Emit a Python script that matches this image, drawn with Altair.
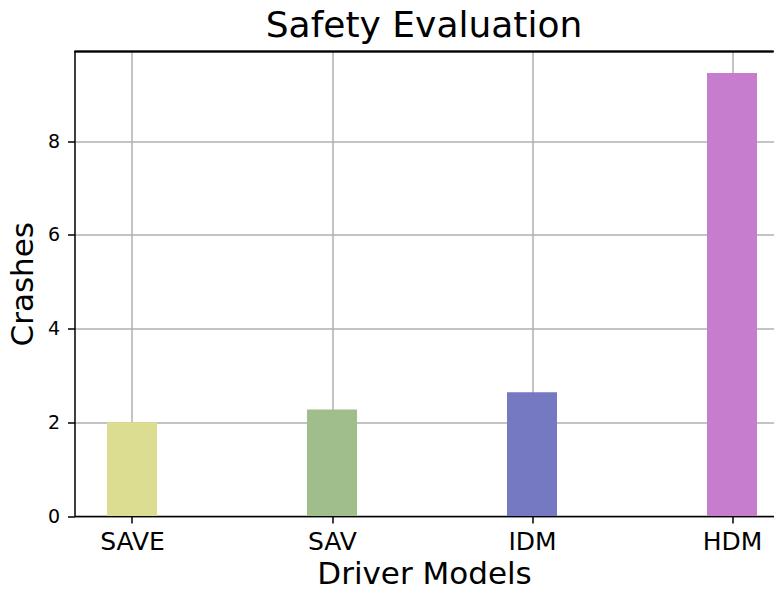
import altair as alt
import pandas as pd

models = ["SAVE", "SAV", "IDM", "HDM"]
crashes = [2.0, 2.27, 2.64, 9.45]
colors = ["#dddd92", "#a0be8c", "#7579c2", "#c77dce"]
positions = [0, 1, 2, 3]
bar_half_width = 0.125
y_ticks = [0, 2, 4, 6, 8]
y_max = 9.91

df = pd.DataFrame({"model": models, "crashes": crashes, "pos": positions, "color": colors})

base = alt.Chart(df).transform_calculate(
    x0=f"datum.pos - {bar_half_width}",
    x1=f"datum.pos + {bar_half_width}",
)

label_expr = "datum.value == 0 ? 'SAVE' : datum.value == 1 ? 'SAV' : datum.value == 2 ? 'IDM' : 'HDM'"
xscale = alt.Scale(domain=[-0.2875, 3.2075], nice=False, zero=False)
yscale = alt.Scale(domain=[0, y_max], nice=False)

bars = base.mark_bar().encode(
    x=alt.X(
        "x0:Q",
        scale=xscale,
        axis=alt.Axis(
            values=positions,
            labelExpr=label_expr,
            title="Driver Models",
            labelFontSize=25,
            titleFontSize=31,
            labelPadding=6,
            titlePadding=5,
            grid=True,
        ),
    ),
    x2="x1:Q",
    y=alt.Y(
        "crashes:Q",
        scale=yscale,
        axis=alt.Axis(
            values=y_ticks,
            title="Crashes",
            labelFontSize=19,
            titleFontSize=31,
            labelPadding=8,
            titlePadding=8,
            grid=True,
        ),
    ),
    y2=alt.datum(0),
    color=alt.Color("color:N", scale=None, legend=None),
)

top_spine = alt.Chart(df).mark_rule(color="black", strokeWidth=1.5).encode(
    y=alt.datum(y_max, scale=yscale),
)

chart = (
    alt.layer(bars, top_spine)
    .properties(
        width=699,
        height=464.5,
        title=alt.TitleParams("Safety Evaluation", fontSize=36, font="DejaVu Sans",
                              fontWeight="normal", color="black", offset=6),
        padding={"left": 66.5, "top": 43.5, "right": 0, "bottom": 69},
        autosize=alt.AutoSizeParams(type="none"),
    )
    .configure_view(stroke=None)
    .configure_axis(
        zindex=1,
        labelFont="DejaVu Sans",
        titleFont="DejaVu Sans",
        labelColor="black",
        titleColor="black",
        titleFontWeight="normal",
        domainColor="black",
        domainWidth=1.5,
        tickColor="black",
        tickWidth=1.5,
        tickSize=7,
        gridColor="#b0b0b0",
        gridWidth=1.5,
    )
)

chart.save("out.html", embed_options={"renderer": "svg", "actions": False})
